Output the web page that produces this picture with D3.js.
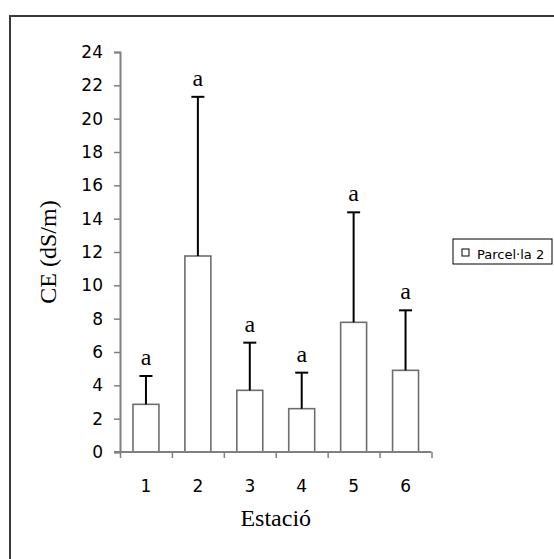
<!DOCTYPE html>
<html>
<head>
<meta charset="utf-8">
<script src="https://cdn.jsdelivr.net/npm/d3@7"></script>
<style>
  body { margin: 0; background: #fff; }
  svg { display: block; }
</style>
</head>
<body>
<div id="chart"></div>
<script>
// Data
var estacions = ["1", "2", "3", "4", "5", "6"];
var mitjanes = [2.86, 11.76, 3.7, 2.6, 7.78, 4.9];
var errors = [1.7, 9.55, 2.86, 2.16, 6.6, 3.6];
var lletres = ["a", "a", "a", "a", "a", "a"];
var yTicks = [0, 2, 4, 6, 8, 10, 12, 14, 16, 18, 20, 22, 24];
var serieNom = "Parcel\u00b7la 2";

var W = 554, H = 559;
var plot = { left: 120, right: 431.5, top: 52, bottom: 452 };
var SANS = "DejaVu Sans, Verdana, sans-serif";
var SERIF = "Liberation Serif, Times New Roman, serif";

var svg = d3.select("#chart").append("svg")
    .attr("width", W)
    .attr("height", H);

// outer frame (runs off the right and bottom of the picture)
svg.append("rect")
    .attr("x", 10).attr("y", 16)
    .attr("width", 700).attr("height", 700)
    .attr("fill", "none")
    .attr("stroke", "#3a3a3a")
    .attr("stroke-width", 2);

var x = d3.scaleBand()
    .domain(estacions)
    .range([plot.left, plot.right])
    .paddingInner(0)
    .paddingOuter(0);

var y = d3.scaleLinear()
    .domain([0, 24])
    .range([plot.bottom, plot.top]);

// bars
var barW = x.bandwidth() * 0.5;
var g = svg.append("g");
var dades = d3.zip(estacions, mitjanes, errors, lletres);

g.selectAll("rect.bar")
    .data(dades)
    .enter()
    .append("rect")
    .attr("class", "bar")
    .attr("x", function(v) { return x(v[0]) + (x.bandwidth() - barW) / 2; })
    .attr("y", function(v) { return y(v[1]); })
    .attr("width", barW)
    .attr("height", function(v) { return y(0) - y(v[1]); })
    .attr("fill", "#fff")
    .attr("stroke", "#6e6e6e")
    .attr("stroke-width", 1.6);

// error bars (upper only)
g.selectAll("line.err")
    .data(dades)
    .enter()
    .append("line")
    .attr("class", "err")
    .attr("x1", function(v) { return x(v[0]) + x.bandwidth() / 2; })
    .attr("x2", function(v) { return x(v[0]) + x.bandwidth() / 2; })
    .attr("y1", function(v) { return y(v[1]); })
    .attr("y2", function(v) { return y(v[1] + v[2]); })
    .attr("stroke", "#000")
    .attr("stroke-width", 2);

g.selectAll("line.cap")
    .data(dades)
    .enter()
    .append("line")
    .attr("class", "cap")
    .attr("x1", function(v) { return x(v[0]) + x.bandwidth() / 2 - 6.5; })
    .attr("x2", function(v) { return x(v[0]) + x.bandwidth() / 2 + 6.5; })
    .attr("y1", function(v) { return y(v[1] + v[2]); })
    .attr("y2", function(v) { return y(v[1] + v[2]); })
    .attr("stroke", "#000")
    .attr("stroke-width", 2);

// significance letters
g.selectAll("text.lletra")
    .data(dades)
    .enter()
    .append("text")
    .attr("class", "lletra")
    .attr("x", function(v) { return x(v[0]) + x.bandwidth() / 2; })
    .attr("y", function(v) { return y(v[1] + v[2]) - 11; })
    .attr("text-anchor", "middle")
    .attr("font-family", SERIF)
    .attr("font-size", "24px")
    .attr("fill", "#000")
    .text(function(v) { return v[3]; });

// y axis
var yAxis = d3.axisLeft(y)
    .tickValues(yTicks)
    .tickSize(6)
    .tickPadding(11)
    .tickFormat(d3.format("d"));

var ya = svg.append("g")
    .attr("transform", "translate(" + plot.left + ",0)")
    .call(yAxis);
ya.select(".domain").attr("stroke", "#808080").attr("stroke-width", 2);
ya.selectAll(".tick line").attr("stroke", "#808080").attr("stroke-width", 1.5);
ya.selectAll("text").attr("font-size", "17px").attr("fill", "#000")
    .attr("font-family", SANS);

// x axis: boundary ticks + centred labels
var xb = d3.scaleLinear().domain([0, estacions.length]).range([plot.left, plot.right]);
var xaTicks = svg.append("g")
    .attr("transform", "translate(0," + plot.bottom + ")")
    .call(d3.axisBottom(xb).tickValues(d3.range(estacions.length + 1)).tickSize(6).tickFormat(""));
xaTicks.select(".domain").attr("stroke", "#808080").attr("stroke-width", 2)
    .attr("d", "M" + (plot.left - 6) + ",0H" + plot.right);
xaTicks.selectAll(".tick line").attr("stroke", "#808080").attr("stroke-width", 1.5);

var xaLab = svg.append("g")
    .attr("transform", "translate(0," + plot.bottom + ")")
    .call(d3.axisBottom(x).tickSize(0).tickPadding(28));
xaLab.select(".domain").remove();
xaLab.selectAll("text").attr("font-size", "17px").attr("fill", "#000")
    .attr("font-family", SANS);

// axis titles
svg.append("text")
    .attr("x", (plot.left + plot.right) / 2)
    .attr("y", 526)
    .attr("text-anchor", "middle")
    .attr("font-family", SERIF)
    .attr("font-size", "24px")
    .text("Estaci\u00f3");

svg.append("text")
    .attr("transform", "translate(56," + ((plot.top + plot.bottom) / 2) + ") rotate(-90)")
    .attr("text-anchor", "middle")
    .attr("font-family", SERIF)
    .attr("font-size", "24px")
    .text("CE (dS/m)");

// legend
var leg = svg.append("g").attr("transform", "translate(453,239)");
leg.append("rect")
    .attr("x", 0).attr("y", 0)
    .attr("width", 99).attr("height", 25)
    .attr("fill", "#fff")
    .attr("stroke", "#000")
    .attr("stroke-width", 1);
leg.append("rect")
    .attr("x", 9).attr("y", 10)
    .attr("width", 7).attr("height", 7)
    .attr("fill", "#fff")
    .attr("stroke", "#000")
    .attr("stroke-width", 1);
leg.append("text")
    .attr("x", 24).attr("y", 20)
    .attr("font-family", SANS)
    .attr("font-size", "13px")
    .text(serieNom);
</script>
</body>
</html>
